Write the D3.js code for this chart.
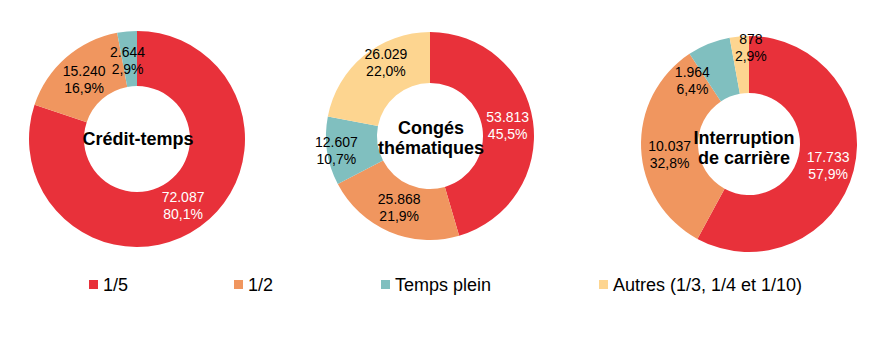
<!DOCTYPE html>
<html lang="fr">
<head>
    <meta charset="UTF-8">
    <script src="https://cdn.jsdelivr.net/npm/d3@7"></script>
    <title>Crédit-temps</title>
    <style>
        body { margin: 0px; background: #fff; }
        svg { display: block; font-family: "Liberation Sans", Arial, sans-serif; }
    </style>
</head>
<body>
    <svg id="chart" width="895" height="363"></svg>
    <script>
        // data
        const categories = ['1/5', '1/2', 'Temps plein', 'Autres (1/3, 1/4 et 1/10)'];
        const titles = [['Crédit-temps'], ['Congés', 'thématiques'], ['Interruption', 'de carrière']];
        const creditTemps = [72087, 15240, 2644, 0];
        const congesThematiques = [53813, 25868, 12607, 26029];
        const interruptionCarriere = [17733, 10037, 1964, 878];
        const series = [creditTemps, congesThematiques, interruptionCarriere];

        // styles / layout
        const colors = ['#e8313a', '#f0965f', '#80bfbf', '#fdd590'];
        const labelColors = ['#fff', '#000', '#000', '#000'];
        const donuts = [
            { cx: 137, cy: 139, outer: 108, inner: 53, titleY: 139, titleDx: 1 },
            { cx: 430, cy: 136, outer: 104, inner: 53, titleY: 138, titleDx: 1 },
            { cx: 749, cy: 144, outer: 108, inner: 51, titleY: 148, titleDx: -5 }
        ];
        // manual label nudges (small slices pushed out like the original)
        const nudges = [
            [[-1, 1], [0, 1], [-2, 1], [0, 0]],
            [[0, 0], [0, -1], [-16, 3], [6, -14]],
            [[2, 1], [0, 7], [-27, 10], [9, -18]]
        ];
        const legendX = [89, 234, 381, 599];

        const fr = d3.formatLocale({ decimal: ',', thousands: '.', grouping: [3], currency: ['', ' €'] });
        const fmtN = fr.format(',.0f');
        const fmtP = fr.format('.1%');

        const svg = d3.select('#chart');
        svg.append('rect').attr('width', 895).attr('height', 363).attr('fill', '#fff');

        const pie = d3.pie().sort(null).value(d => d.v);

        series.forEach((vals, c) => {
            const cfg = donuts[c];
            const total = d3.sum(vals);
            const arcs = pie(vals.map((v, i) => ({ v: v, i: i })));
            const arc = d3.arc().innerRadius(cfg.inner).outerRadius(cfg.outer);
            const g = svg.append('g').attr('transform', `translate(${cfg.cx},${cfg.cy})`);

            g.selectAll('path.slice')
                .data(arcs.filter(d => d.data.v > 0))
                .enter()
                .append('path')
                .attr('class', 'slice')
                .attr('d', arc)
                .attr('fill', d => colors[d.data.i]);

            const lab = g.selectAll('text.lab')
                .data(arcs.filter(d => d.data.v > 0))
                .enter()
                .append('text')
                .attr('class', 'lab')
                .attr('text-anchor', 'middle')
                .attr('font-size', 14)
                .attr('fill', d => labelColors[d.data.i])
                .attr('transform', d => {
                    const p = arc.centroid(d);
                    const n = nudges[c][d.data.i];
                    return `translate(${p[0] + n[0]},${p[1] + n[1]})`;
                });
            lab.append('tspan').attr('x', 0).attr('y', -3).text(d => fmtN(d.data.v));
            lab.append('tspan').attr('x', 0).attr('y', 14).text(d => fmtP(d.data.v / total));

            const t = titles[c];
            const title = g.append('text')
                .attr('text-anchor', 'middle')
                .attr('font-size', 18)
                .attr('font-weight', 'bold')
                .attr('fill', '#000');
            t.forEach((line, k) => {
                title.append('tspan')
                    .attr('x', cfg.titleDx)
                    .attr('y', cfg.titleY - cfg.cy + (k - (t.length - 1) / 2) * 20)
                    .attr('dy', '0.35em')
                    .text(line);
            });
        });

        // legend
        const leg = svg.append('g').selectAll('g')
            .data(categories)
            .enter()
            .append('g')
            .attr('transform', (d, i) => `translate(${legendX[i]},280)`);
        leg.append('rect')
            .attr('width', 9)
            .attr('height', 9)
            .attr('fill', (d, i) => colors[i]);
        leg.append('text')
            .attr('x', 14)
            .attr('y', 11)
            .attr('font-size', 18)
            .attr('fill', '#000')
            .text(d => d);
    </script>
</body>
</html>
